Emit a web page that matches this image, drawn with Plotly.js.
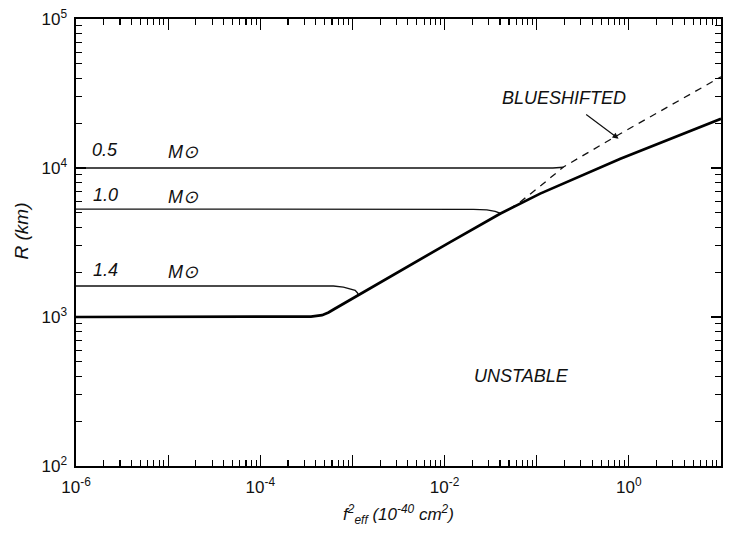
<!DOCTYPE html>
<html>
<head>
<meta charset="utf-8">
<script src="https://cdn.plot.ly/plotly-3.0.1.min.js"></script>
<style>html,body{margin:0;padding:0;background:#fff;}</style>
</head>
<body>
<div id="chart" style="width:731px;height:543px;"></div>
<script>
// Thick boundary curve (stability limit)
var boundaryX = [1e-6, 1e-5, 1e-4, 2.5e-4, 3.55e-4, 4.68e-4, 5.5e-4, 6.3e-4, 7.94e-4, 1.16e-3, 3.3e-3, 1.15e-2, 4.0e-2, 0.109, 0.81, 3.2, 10];
var boundaryY = [1000, 1000, 1000, 1002, 1007, 1028, 1072, 1127, 1225, 1413, 2056, 3184, 4932, 6730, 11535, 16220, 21430];

// Blueshifted (dashed) branch
var blueX = [0.050, 0.0662, 0.112, 0.195, 0.807, 10];
var blueY = [5280, 5920, 7650, 10160, 16980, 40900];

// Mass tracks
var m05X = [1e-6, 1e-3, 0.15, 0.195];
var m05Y = [10000, 10000, 10000, 10120];

var m10X = [1e-6, 1e-3, 0.0206, 0.0288, 0.0354, 0.0392, 0.0402];
var m10Y = [5300, 5300, 5280, 5230, 5120, 5000, 4932];

var m14X = [1e-6, 1e-4, 6.22e-4, 7.98e-4, 9.44e-4, 1.07e-3, 1.13e-3, 1.16e-3];
var m14Y = [1615, 1615, 1615, 1589, 1549, 1510, 1456, 1413];

// Tick labels
var xLabelVals = [1e-6, 1e-4, 1e-2, 1];
var xLabelText = ['10<sup>-6</sup>', '10<sup>-4</sup>', '10<sup>-2</sup>', '10<sup>0</sup>'];
var xOddDecades = [1e-5, 1e-3, 1e-1, 10];
var yTickVals = [1e2, 1e3, 1e4, 1e5];
var yTickText = ['10<sup>2</sup>', '10<sup>3</sup>', '10<sup>4</sup>', '10<sup>5</sup>'];

// Labels
var massLabels = ['0.5', '1.0', '1.4'];
var massLabelY = [13150, 6560, 2060];
var sunLabel = 'M\u2299';

function minorTicks(d0, d1) {
  var v = [];
  for (var d = d0; d < d1; d++) {
    for (var k = 2; k <= 9; k++) v.push(k * Math.pow(10, d));
  }
  return v;
}

var FONT = 'Liberation Sans, Arial, sans-serif';
var thin = {color: '#111', width: 1.3};

var traces = [
  {x: m05X, y: m05Y, mode: 'lines', line: thin, showlegend: false, hoverinfo: 'skip'},
  {x: m10X, y: m10Y, mode: 'lines', line: thin, showlegend: false, hoverinfo: 'skip'},
  {x: m14X, y: m14Y, mode: 'lines', line: thin, showlegend: false, hoverinfo: 'skip'},
  {x: blueX, y: blueY, mode: 'lines', line: {color: '#111', width: 1.3, dash: '7px,6px'}, showlegend: false, hoverinfo: 'skip'},
  {x: boundaryX, y: boundaryY, mode: 'lines', line: {color: '#000', width: 2.7}, showlegend: false, hoverinfo: 'skip'},
  // empty traces that attach the extra tick axes
  {x: [], y: [], xaxis: 'x2', yaxis: 'y', mode: 'lines', showlegend: false, hoverinfo: 'skip'},
  {x: [], y: [], xaxis: 'x3', yaxis: 'y2', mode: 'lines', showlegend: false, hoverinfo: 'skip'}
];

var labelFont = {family: FONT, size: 18, color: '#111', style: 'italic'};
var annotations = [];
for (var i = 0; i < massLabels.length; i++) {
  annotations.push({x: Math.log10(2.07e-6), y: Math.log10(massLabelY[i]), xref: 'x', yref: 'y',
    text: massLabels[i], showarrow: false, font: labelFont, xanchor: 'center', yanchor: 'middle'});
  annotations.push({x: Math.log10(1.45e-5), y: Math.log10(massLabelY[i] * 0.975), xref: 'x', yref: 'y',
    text: sunLabel, showarrow: false, font: labelFont, xanchor: 'center', yanchor: 'middle'});
}
annotations.push({x: Math.log10(0.068), y: Math.log10(404), xref: 'x', yref: 'y', text: 'UNSTABLE',
  showarrow: false, font: labelFont, xanchor: 'center', yanchor: 'middle'});
annotations.push({x: Math.log10(0.773), y: Math.log10(15740), xref: 'x', yref: 'y', text: 'BLUESHIFTED',
  showarrow: true, ax: -55, ay: -41, arrowhead: 2, arrowsize: 1, arrowwidth: 1.2, arrowcolor: '#111',
  standoff: 0, startstandoff: 9, font: labelFont});
annotations.push({x: -0.085, y: 0.525, xref: 'paper', yref: 'paper', text: 'R (km)', textangle: -90,
  showarrow: false, font: {family: FONT, size: 19, color: '#111', style: 'italic'}, xanchor: 'center', yanchor: 'middle'});

var tickBase = {
  type: 'log', tickmode: 'array', ticks: 'inside', tickcolor: '#000', tickwidth: 1.2,
  showgrid: false, zeroline: false, tickfont: {family: FONT, size: 17, color: '#111'}
};

var layout = {
  width: 731, height: 543,
  margin: {l: 76, r: 10, t: 19, b: 77},
  paper_bgcolor: '#fff', plot_bgcolor: '#fff',
  showlegend: false,
  // bottom/top: labelled even decades (long ticks)
  xaxis: Object.assign({}, tickBase, {
    range: [-6, 1], tickvals: xLabelVals, ticktext: xLabelText, ticklen: 11, ticklabelstandoff: 5,
    showline: true, linecolor: '#000', linewidth: 1.6, mirror: 'ticks',
    title: {text: 'f<sup>2</sup><sub>eff</sub> (10<sup>-40</sup> cm<sup>2</sup>)', font: {family: FONT, size: 17, color: '#111', style: 'italic'}, standoff: 12}
  }),
  // odd decades (long ticks, no labels)
  xaxis2: Object.assign({}, tickBase, {
    range: [-6, 1], overlaying: 'x', anchor: 'y', side: 'bottom', tickvals: xOddDecades, ticklen: 11,
    showticklabels: false, showline: false, mirror: 'ticks'
  }),
  // minor ticks 2..9
  xaxis3: Object.assign({}, tickBase, {
    range: [-6, 1], overlaying: 'x', anchor: 'y', side: 'bottom', tickvals: minorTicks(-6, 1), ticklen: 6,
    showticklabels: false, showline: false, mirror: 'ticks', tickwidth: 1.1
  }),
  yaxis: Object.assign({}, tickBase, {
    range: [2, 5], tickvals: yTickVals, ticktext: yTickText, ticklen: 10, ticklabelstandoff: 4,
    showline: true, linecolor: '#000', linewidth: 1.6, mirror: 'ticks'
  }),
  yaxis2: Object.assign({}, tickBase, {
    range: [2, 5], overlaying: 'y', anchor: 'x', side: 'left', tickvals: minorTicks(2, 5), ticklen: 6,
    showticklabels: false, showline: false, mirror: 'ticks', tickwidth: 1.1
  }),
  annotations: annotations
};

Plotly.newPlot('chart', traces, layout, {staticPlot: true, displayModeBar: false});
</script>
</body>
</html>
